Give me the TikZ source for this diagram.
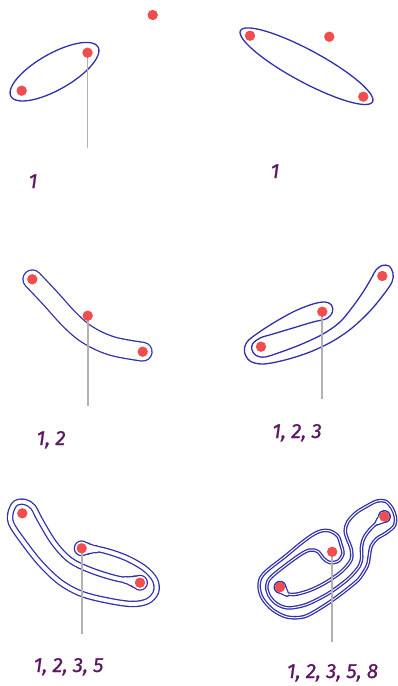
\documentclass[tikz,border=0pt]{standalone}
\usepackage{fontspec}
\setmainfont{Fira Sans}
\newfontfamily\lblfont{Fira Sans}[ItalicFeatures={FakeBold=1}]
\usetikzlibrary{calc}
\definecolor{lineblue}{RGB}{48,48,170}
\definecolor{dotred}{RGB}{240,78,78}
\definecolor{rayg}{RGB}{178,178,178}
\definecolor{numpurple}{RGB}{92,24,96}
\tikzset{
  ell/.style={draw=lineblue, line width=1.3pt},
  ray/.style={draw=rayg, line width=1.8pt},
  lbl/.style={text=numpurple, font=\lblfont\fontsize{20.5}{22}\selectfont\itshape, anchor=base, inner sep=0pt},
  rnd/.style={line cap=round, line join=round},
}
% tapered bulb round a dot (panel 5): #1 colour, #2 sign, #3 dot, #4 point along the spine
\newcommand\tbulbA[4]{%
  \fill[#1] (#3) circle ({7.35+(#2)*0.65});
  \draw[#1, rnd, line width={2*5.8pt+(#2)*1.3pt}] (#3) -- ($(#3)!5pt!(#4)$);
  \draw[#1, rnd, line width={2*4.4pt+(#2)*1.3pt}] (#3) -- ($(#3)!10pt!(#4)$);
  \draw[#1, rnd, line width={2*3.4pt+(#2)*1.3pt}] (#3) -- ($(#3)!15pt!(#4)$);
}
% tapered bulb round a dot (panel 6)
\newcommand\tbulbB[4]{%
  \fill[#1] (#3) circle ({5.85+(#2)*0.65});
  \draw[#1, rnd, line width={2*4.5pt+(#2)*1.3pt}] (#3) -- ($(#3)!3.5pt!(#4)$);
  \draw[#1, rnd, line width={2*3.2pt+(#2)*1.3pt}] (#3) -- ($(#3)!7pt!(#4)$);
  \draw[#1, rnd, line width={2*2.0pt+(#2)*1.3pt}] (#3) -- ($(#3)!10pt!(#4)$);
}
\begin{document}
\begin{tikzpicture}[x=1pt,y=-1pt]
\useasboundingbox (0,0) rectangle (398,686);
% ---------- dots ----------
\coordinate (d1a) at (152.7,15);
\coordinate (d1b) at (87.5,52.7);
\coordinate (d1c) at (21.7,90.7);
\coordinate (d2a) at (250,35.7);
\coordinate (d2b) at (329.3,36.7);
\coordinate (d2c) at (363.3,96.7);
\coordinate (d3a) at (32.3,279.3);
\coordinate (d3b) at (87.7,315.7);
\coordinate (d3c) at (142.7,351.7);
\coordinate (d4a) at (382.3,276);
\coordinate (d4b) at (322.3,311.7);
\coordinate (d4c) at (261,346.7);
\coordinate (d5a) at (22.3,513.3);
\coordinate (d5b) at (81.7,548.3);
\coordinate (d5c) at (140,582.7);
\coordinate (d6a) at (280,587.2);
\coordinate (d6b) at (332.2,551.8);
\coordinate (d6c) at (384.4,516.6);
% ray ends
\coordinate (r1) at (87.5,148.3);
\coordinate (r3) at (87.7,406);
\coordinate (r4) at (322.3,399.3);
\coordinate (r5) at (81.7,634);
\coordinate (r6) at (332.2,641.7);

% ---------- panel 1 ----------
\draw[ell] plot[domain=0:360, samples=120, smooth, variable=\t]
  ({54.5+43.5*cos(\t)+8.9*sin(\t)}, {71.7-24.7*cos(\t)+15.7*sin(\t)}) -- cycle;
% ---------- panel 2 ----------
\draw[ell] plot[domain=0:360, samples=120, smooth, variable=\t]
  ({306.5+66*cos(\t)-7.6*sin(\t)}, {66.2+35.6*cos(\t)+14.1*sin(\t)}) -- cycle;

% ---------- panel 3 ----------
\foreach \c/\e in {lineblue/1, white/-1}{
  \draw[color=\c, rnd, line width={18.7pt+(\e)*1.3pt}] plot[smooth, tension=0.6] coordinates
   {(32.3,279.3) (50,298) (70,320) (88,335) (112,346) (142.7,351.7)};
}

% ---------- panel 4 ----------
\draw[ell] plot[smooth cycle, tension=0.55] coordinates {
 (376,270) (382,265.5) (389,266) (393,273) (392,282)
 (384,294) (370,311) (352,328) (333,341) (310,352) (285,360) (263,364)
 (250,361) (244.5,352) (247,342)
 (258,333) (275,322) (295,311) (313,304) (325,302)
 (331.5,305) (332.5,312) (327,318.5)
 (313,322) (293,328) (273,334) (260,338)
 (252.5,344) (252,350) (256,355.5) (265,357)
 (281,352) (302,344) (323,334) (340,322) (354,305) (365,289) (372,277)};

% ---------- panel 5 ----------
\foreach \c/\e in {lineblue/1, white/-1}{
  \draw[color=\c, rnd, line width={5.2pt+(\e)*1.3pt}] plot[smooth, tension=0.55] coordinates
   {(81.7,548.3) (100,549.5) (124,557) (144,568) (155,580) (156,592) (148,601) (133,604)
    (110,601) (82,594) (60,582) (40,563) (22,540) (11,523) (11,511) (16,503) (25,502)
    (33,507) (40,520) (54,543) (70,560) (90,570) (115,578) (140,582.7)};
  \tbulbA{\c}{\e}{d5b}{100,549.5}
  \tbulbA{\c}{\e}{d5c}{115,578}
}

% ---------- panel 6 (frame along the diagonal of its three dots) ----------
\begin{scope}[shift={(306,569.5)}, x={(0.83pt,0.56pt)}, y={(-0.56pt,0.83pt)}]
\foreach \c/\e in {lineblue/1, white/-1}{
  \draw[color=\c, rnd, line width={2.3pt+(\e)*1.3pt}] plot[smooth, tension=0.55] coordinates
   {(-31.5,0) (-30,-8) (-24,-14) (-10,-19) (5,-21.5) (20,-22) (31.5,-21) (43,-17)
    (49,-8) (51,1) (54,10) (61,16) (73,19) (86,18.5) (97,17) (104,12) (105.5,3)
    (103.5,-6) (98,-13) (87,-14.5) (76,-14) (67,-17) (61,-23) (53,-31) (40,-37)
    (31.5,-38.5) (10,-40) (-10,-40) (-28,-38) (-42,-29) (-50,-15) (-52.2,0) (-49,11)
    (-42,18.5) (-31.5,21) (-10,22.5) (10,24.5) (25,25) (34,23.5) (41,19) (45,10)
    (42.5,0) (39.5,-7.5) (31.5,-11) (23.5,-7.5) (20.5,0) (20,8) (14,14) (0,15.5)
    (-31.5,13.5) (-41,9) (-45,0) (-43.5,-12) (-36,-22) (-20,-29) (0,-32) (15,-32.3)
    (31.5,-31) (46,-27) (53,-21) (58,-13) (66,-6) (78,-2) (94.5,0)};
  \tbulbB{\c}{\e}{d6a}{-30,-8}
  \tbulbB{\c}{\e}{d6c}{78,-2}
}
\end{scope}

% ---------- rays ----------
\draw[ray] (d1b) -- (r1);
\draw[ray] (d3b) -- (r3);
\draw[ray] (d4b) -- (r4);
\draw[ray] (d5b) -- (r5);
\draw[ray] (d6b) -- (r6);

% ---------- dot discs ----------
\foreach \d in {d1a,d1b,d1c,d2a,d2b,d2c,d3a,d3b,d3c,d4a,d4b,d4c,d5a,d5b,d5c,d6a,d6b,d6c}{
  \fill[dotred] (\d) circle (5.2);
}

% ---------- labels ----------
\node[lbl] (l1) at (33,188) {1};
\node[lbl] (l2) at (275,178) {1};
\node[lbl] (l3) at (51,445) {1, 2};
\node[lbl] (l4) at (297,438) {1, 2, 3};
\node[lbl] (l5) at (68.5,672) {1, 2, 3, 5};
\node[lbl] (l6) at (332.5,678) {1, 2, 3, 5, 8};
\end{tikzpicture}
\end{document}
